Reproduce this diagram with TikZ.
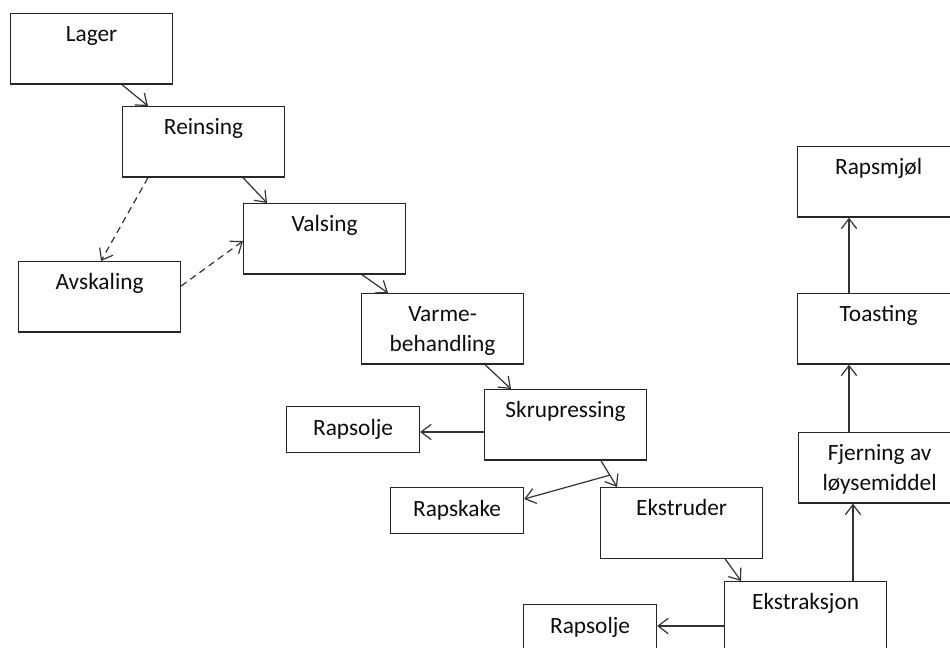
\documentclass[tikz,border=0pt]{standalone}
\usepackage{fontspec}
\setmainfont{Carlito}
\usetikzlibrary{arrows.meta,calc}
\begin{document}
\begin{tikzpicture}[x=0.75pt,y=-0.75pt,
  every node/.style={text=black!95},
  box/.style={draw=black!85, line width=0.9pt, inner sep=0pt, anchor=north west,
    minimum width=162*0.75pt, text width=156*0.75pt, align=flush center,
    text height=28*0.75pt, text depth=42.5*0.75pt,
    font=\fontsize{17.5}{22.5}\selectfont},
  outbox/.style={draw=black!85, line width=0.9pt, inner sep=0pt, anchor=north west,
    minimum width=133*0.75pt, minimum height=46*0.75pt,
    font=\fontsize{17.5}{22.5}\selectfont},
  arr/.style={-{Straight Barb[length=7.5pt,width=11.5pt]}, line width=0.9pt, draw=black!80},
  darr/.style={arr, dash pattern=on 5pt off 3.5pt}]
\useasboundingbox (0,0) rectangle (950,648);
\fill[white] (0,0) rectangle (950,648);
\clip (0,0) rectangle (950,648);

\node[box] (lager) at (10,13) {Lager};
\node[box] (reins) at (122,106) {Reinsing};
\node[box] (vals) at (243,203) {Valsing};
\node[box] (avsk) at (18,261) {Avskaling};
\node[box] (varme) at (361,293) {Varme-\\behandling};
\node[box] (skru) at (484,389) {Skrupressing};
\node[outbox] (rapsolje1) at (286,406) {Rapsolje};
\node[outbox] (rapskake) at (390,487) {Rapskake};
\node[box] (ekstruder) at (600,487) {Ekstruder};
\node[box] (ekstr) at (724,581) {Ekstraksjon};
\node[outbox] (rapsolje2) at (523,604) {Rapsolje};
\node[box] (fjern) at (798,432) {Fjerning av\\løysemiddel};
\node[box] (toast) at (797,293) {Toasting};
\node[box] (rapsmj) at (797,146) {Rapsmjøl};

\draw[arr] ($(lager.south west)+(112,0)$) -- ($(reins.north west)+(26,0)$);
\draw[arr] ($(reins.south west)+(121,0)$) -- ($(vals.north west)+(24,0)$);
\draw[darr] ($(reins.south west)+(26,0)$) -- ($(avsk.north west)+(83,0)$);
\draw[darr] ($(avsk.north east)+(0,25)$) -- ($(vals.north west)+(0,38)$);
\draw[arr] ($(vals.south west)+(119,0)$) -- ($(varme.north west)+(27,0)$);
\draw[arr] ($(varme.south west)+(124,0)$) -- ($(skru.north west)+(27,0)$);
\coordinate (k1) at ($(skru.north west)+(0,43)$);
\draw[arr] (k1) -- (rapsolje1.east |- k1);
\coordinate (s1) at ($(skru.south west)+(117,0)$);
\coordinate (s2) at ($(ekstruder.north west)+(17,0)$);
\draw[arr] (s1) -- (s2);
\draw[arr] ($(s1)!0.55!(s2)$) -- ($(rapskake.north east)+(0,12)$);
\draw[arr] ($(ekstruder.south west)+(125,0)$) -- ($(ekstr.north west)+(17,0)$);
\coordinate (k2) at ($(ekstr.north west)+(0,45)$);
\draw[arr] (k2) -- (rapsolje2.east |- k2);
\coordinate (k3) at ($(ekstr.north west)+(129,0)$);
\draw[arr] (k3) -- (k3 |- fjern.south);
\coordinate (k4) at ($(fjern.north west)+(51,0)$);
\draw[arr] (k4) -- (k4 |- toast.south);
\coordinate (k5) at ($(toast.north west)+(52,0)$);
\draw[arr] (k5) -- (k5 |- rapsmj.south);
\end{tikzpicture}
\end{document}
